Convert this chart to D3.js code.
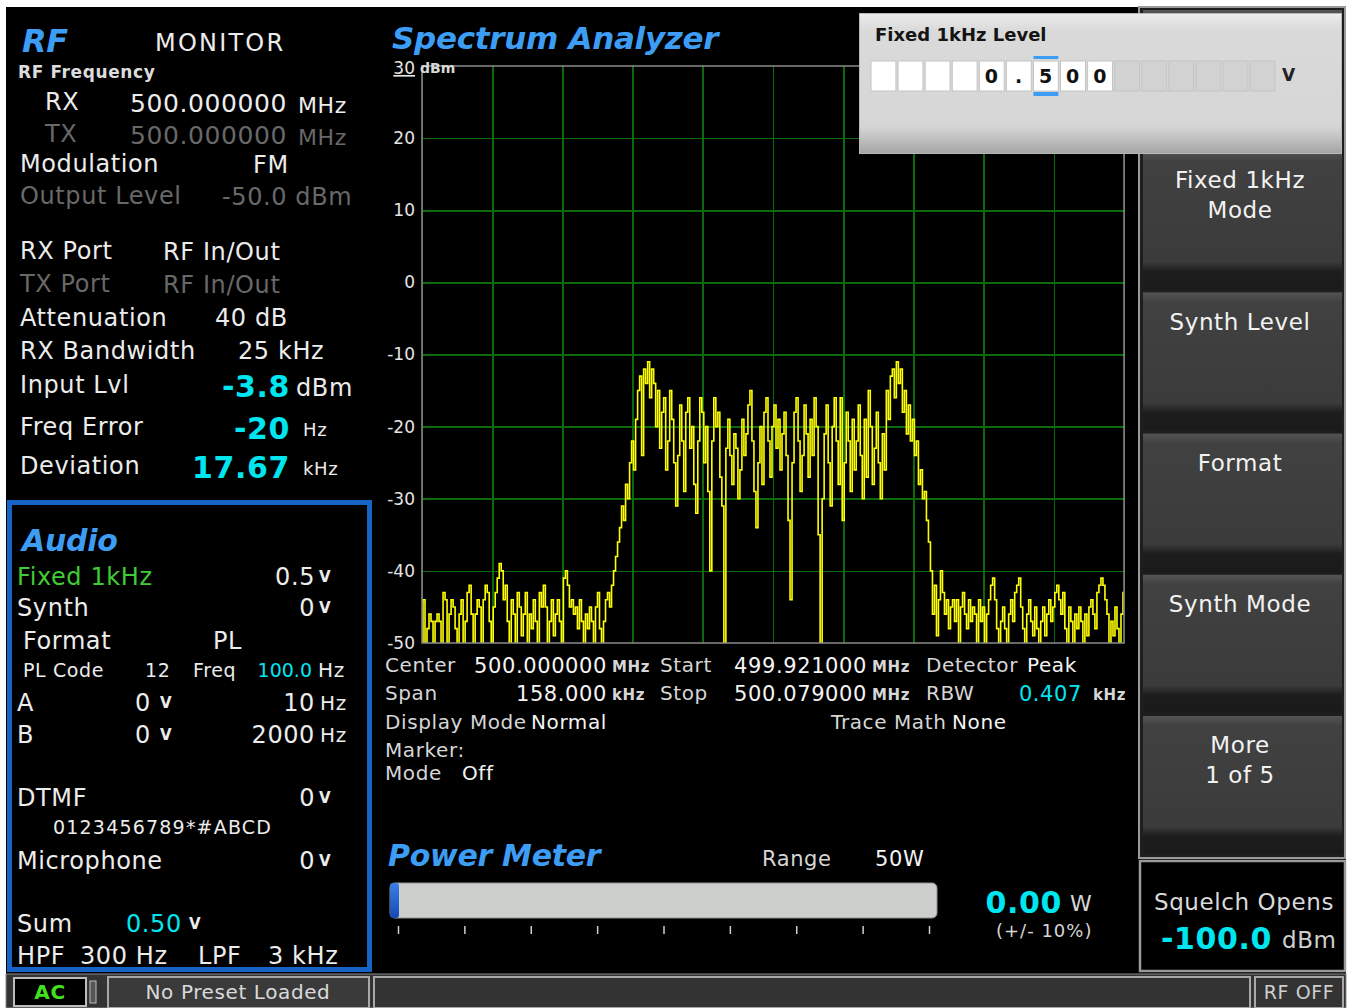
<!DOCTYPE html>
<meta charset="utf-8">
<style>
body { margin: 0; background: #fff; }
svg { display: block; }
text { font-family: 'DejaVu Sans', sans-serif; letter-spacing: 0.6px; }
.grid line { stroke: #0b6a0b; stroke-width: 1.6px; shape-rendering: crispEdges; }
.grid path { display: none; }
.yaxis path, .yaxis line { display: none; }
.yaxis text { fill: #e4e4e4; font-size: 17px; letter-spacing: 0; }
.pticks path { display: none; }
.pticks line { stroke: #cfcfcf; stroke-width: 1.5px; }
</style>
<svg width="1349" height="1008"></svg>
<script src="https://d3js.org/d3.v7.min.js"></script>
<script>
// spectrum trace, dBm, one value per bin from start to stop frequency
var traceFloorLeft = [
  -50,-44,-50,-48,-46,-47,-50,-47,-46,-47,
  -50,-43,-44,-50,-46,-44,-45,-48,-50,-46,
  -44,-50,-47,-43,-42,-46,-50,-46,-44,-45,
  -50,-44,-42,-43,-47,-50,-45,-43,-41,-39,
  -40,-44,-42,-47,-50,-44,-46,-50,-43,-45,
  -49,-46,-43,-50,-46,-48,-44,-47,-50,-43,
  -45,-42,-45,-50,-47,-44,-49,-46,-44,-47,
  -50,-41,-40,-42,-45,-44,-46,-45,-48,-44,
  -47,-50,-46,-48,-45,-47,-50,-45,-43,-48,
  -50,-47,-44,-43,-45,-42];
var traceRise = [-40,-38,-36,-34,-31,-33,-28,-30,-25,-22,-26,-19];
var tracePlateau = [
  -15,-13,-24,-12,-14,-11,-16,-12,-14,-20,
  -15,-23,-18,-16,-26,-22,-15,-19,-25,-31,
  -24,-17,-22,-29,-18,-16,-23,-20,-28,-32,
  -22,-16,-18,-25,-20,-29,-40,-22,-16,-20,
  -18,-27,-31,-50,-23,-19,-24,-28,-21,-23,
  -30,-26,-19,-24,-21,-17,-15,-22,-29,-34,
  -25,-20,-28,-18,-16,-22,-27,-20,-17,-23,
  -19,-26,-21,-18,-24,-33,-44,-25,-18,-16,
  -22,-29,-24,-17,-21,-27,-19,-24,-16,-20,
  -35,-50,-30,-21,-17,-25,-31,-20,-16,-22,
  -28,-16,-33,-25,-18,-22,-29,-19,-26,-22,
  -17,-24,-30,-19,-27,-15,-20,-28,-23,-18,
  -25,-30,-21,-26,-15,-19,-13,-12,-16,-11,
  -14,-12,-18,-15,-21,-17,-22];
var traceFall = [-19,-24,-22,-28,-26,-30,-29,-33,-36,-40,-46];
var traceFloorRight = [
  -42,-49,-44,-40,-43,-46,-44,-48,-45,-44,
  -47,-44,-50,-45,-43,-46,-48,-44,-47,-45,
  -46,-50,-44,-47,-45,-50,-46,-44,-42,-41,
  -44,-48,-50,-47,-45,-48,-50,-46,-44,-47,
  -43,-42,-41,-45,-48,-50,-46,-44,-47,-49,
  -45,-48,-50,-47,-45,-49,-46,-44,-47,-45,
  -43,-42,-44,-46,-43,-48,-50,-45,-47,-50,
  -46,-48,-45,-47,-50,-46,-49,-45,-44,-46,
  -48,-43,-42,-41,-42,-44,-46,-50,-47,-49,
  -45,-48,-50,-46,-43];

var freqStart = 499.921, freqStop = 500.079;   // MHz
var refLevel = 30, bottomLevel = -50;           // dBm
var yTicks = [30, 20, 10, 0, -10, -20, -30, -40, -50];
var powerRange = 50;                            // W
var powerTicks = [0, 6.25, 12.5, 18.75, 25, 31.25, 37.5, 43.75, 50];
var entryDigits = ["", "", "", "", "0", ".", "5", "0", "0", "", "", "", "", "", ""];
var softkeys = [[""], ["Fixed 1kHz", "Mode"], ["Synth Level"], ["Format"], ["Synth Mode"], ["More", "1 of 5"]];

var trace = traceFloorLeft.concat(traceRise, tracePlateau, traceFall, traceFloorRight);

var svg = d3.select("svg");
var defs = svg.append("defs");

function grad(id, stops) {
  var g = defs.append("linearGradient").attr("id", id)
      .attr("x1", 0).attr("y1", 0).attr("x2", 0).attr("y2", 1);
  stops.forEach(function(s) { g.append("stop").attr("offset", s[0]).attr("stop-color", s[1]); });
}
grad("btn", [[0, "#555"], [0.07, "#414141"], [0.8, "#3b3b3b"], [0.87, "#1d1d1d"], [1, "#1a1a1a"]]);
grad("pop", [[0, "#ececec"], [0.12, "#dadada"], [0.8, "#d6d6d6"], [0.88, "#c4c4c4"], [1, "#a4a4a4"]]);
grad("cap", [[0, "#3c7fe6"], [1, "#1449b4"]]);

function label(x, y, s, o) {
  o = o || {};
  return svg.append("text")
      .attr("x", x).attr("y", y).attr("dy", "0.36em")
      .attr("font-size", o.size || 24)
      .attr("fill", o.fill || "#ececec")
      .attr("font-weight", o.bold ? "bold" : null)
      .attr("font-style", o.italic ? "italic" : null)
      .attr("text-anchor", o.anchor || "start")
      .text(s);
}
var BLUE = "#3d9df5", DIM = "#686868", CYAN = "#00e6f0", GREEN = "#3fcc34";
function title(x, y, s, size) {
  return label(x, y, s, {size: size, fill: BLUE, bold: true, italic: true}).style("letter-spacing", "-0.3px");
}

// screen
svg.append("rect").attr("x", 6).attr("y", 7).attr("width", 1340).attr("height", 1001).attr("fill", "#000");

// ---- RF panel
title(22, 40, "RF", 32);
label(155, 42, "MONITOR", {size: 24}).style("letter-spacing", "2.2px");
label(18, 72, "RF Frequency", {size: 17, bold: true, fill: "#dcdcdc"});
label(45, 101, "RX", {size: 24});
label(130, 103, "500.000000", {size: 25});
label(298, 105, "MHz", {size: 22});
label(45, 133, "TX", {size: 24, fill: DIM});
label(130, 135, "500.000000", {size: 25, fill: DIM});
label(298, 137, "MHz", {size: 22, fill: DIM});
label(20, 163, "Modulation", {size: 24});
label(253, 164, "FM", {size: 24});
label(20, 195, "Output Level", {size: 24, fill: DIM});
label(222, 196, "-50.0 dBm", {size: 24, fill: DIM});
label(20, 250, "RX Port", {size: 24});
label(163, 251, "RF In/Out", {size: 24});
label(20, 283, "TX Port", {size: 24, fill: DIM});
label(163, 284, "RF In/Out", {size: 24, fill: DIM});
label(20, 317, "Attenuation", {size: 24});
label(215, 317, "40 dB", {size: 24});
label(20, 350, "RX Bandwidth", {size: 24});
label(238, 350, "25 kHz", {size: 24});
label(20, 384, "Input Lvl", {size: 24});
label(290, 386, "-3.8", {size: 30, bold: true, fill: CYAN, anchor: "end"});
label(296, 387, "dBm", {size: 24});
label(20, 426, "Freq Error", {size: 24});
label(290, 428, "-20", {size: 30, bold: true, fill: CYAN, anchor: "end"});
label(303, 430, "Hz", {size: 18});
label(20, 465, "Deviation", {size: 24});
label(290, 467, "17.67", {size: 30, bold: true, fill: CYAN, anchor: "end"});
label(303, 469, "kHz", {size: 18});

// ---- Audio panel
svg.append("rect").attr("x", 9.5).attr("y", 502.5).attr("width", 360).attr("height", 467)
    .attr("fill", "none").attr("stroke", "#1763c6").attr("stroke-width", 5);
title(22, 540, "Audio", 30);
function volt(x, y) { label(x, y + 1, "V", {size: 15, bold: true}); }
label(17, 576, "Fixed 1kHz", {size: 24, fill: GREEN});
label(315, 576, "0.5", {size: 24, anchor: "end"}); volt(319, 576);
label(17, 607, "Synth", {size: 24});
label(315, 607, "0", {size: 24, anchor: "end"}); volt(319, 607);
label(23, 640, "Format", {size: 24});
label(213, 640, "PL", {size: 24});
label(23, 670, "PL Code", {size: 19});
label(145, 670, "12", {size: 19});
label(193, 670, "Freq", {size: 19});
label(312, 670, "100.0", {size: 19, fill: CYAN, anchor: "end"}).style("letter-spacing", "0");
label(318, 670, "Hz", {size: 20});
label(17, 702, "A", {size: 24});
label(135, 702, "0", {size: 24}); volt(160, 702);
label(315, 702, "10", {size: 24, anchor: "end"});
label(320, 703, "Hz", {size: 20});
label(17, 734, "B", {size: 24});
label(135, 734, "0", {size: 24}); volt(160, 734);
label(315, 734, "2000", {size: 24, anchor: "end"});
label(320, 735, "Hz", {size: 20});
label(17, 797, "DTMF", {size: 24});
label(315, 797, "0", {size: 24, anchor: "end"}); volt(319, 797);
label(53, 827, "0123456789*#ABCD", {size: 19}).style("letter-spacing", "1.2px");
label(17, 860, "Microphone", {size: 24});
label(315, 860, "0", {size: 24, anchor: "end"}); volt(319, 860);
label(17, 923, "Sum", {size: 24});
label(126, 923, "0.50", {size: 24, fill: CYAN}); volt(189, 923);
label(17, 955, "HPF", {size: 24});
label(80, 955, "300 Hz", {size: 24});
label(198, 955, "LPF", {size: 24});
label(268, 955, "3 kHz", {size: 24});

// ---- Spectrum analyzer
title(392, 38, "Spectrum Analyzer", 31);
var plot = {left: 422, right: 1124, top: 66, bottom: 643};
var x = d3.scaleLinear().domain([freqStart, freqStop]).range([plot.left, plot.right]);
var y = d3.scaleLinear().domain([bottomLevel, refLevel]).range([plot.bottom, plot.top]);
var binWidth = (freqStop - freqStart) / (trace.length - 1);

svg.append("g").attr("class", "grid")
    .attr("transform", "translate(0," + plot.bottom + ")")
    .call(d3.axisBottom(x).tickValues(d3.range(11).map(function(k) { return freqStart + k * (freqStop - freqStart) / 10; }))
      .tickSize(-(plot.bottom - plot.top)).tickFormat(""));
svg.append("g").attr("class", "grid")
    .attr("transform", "translate(" + plot.left + ",0)")
    .call(d3.axisLeft(y).tickValues(yTicks.slice(1, -1)).tickSize(-(plot.right - plot.left)).tickFormat(""));

svg.append("clipPath").attr("id", "clip").append("rect")
    .attr("x", plot.left).attr("y", plot.top).attr("width", plot.right - plot.left).attr("height", plot.bottom - plot.top);
svg.append("path")
    .datum(trace)
    .attr("clip-path", "url(#clip)")
    .attr("fill", "none").attr("stroke", "#ffff00").attr("stroke-width", 1.6)
    .attr("d", d3.line()
      .x(function(d, i) { return x(freqStart + i * binWidth); })
      .y(function(d) { return y(d); })
      .curve(d3.curveStep));

svg.append("rect").attr("x", plot.left).attr("y", plot.top)
    .attr("width", plot.right - plot.left).attr("height", plot.bottom - plot.top)
    .attr("fill", "none").attr("stroke", "#8a8a8a").attr("stroke-width", 1.5);

var yAxis = svg.append("g").attr("class", "yaxis")
    .attr("transform", "translate(" + 415 + ",0)")
    .call(d3.axisLeft(y).tickValues(yTicks).tickSize(0).tickPadding(0)
      .tickFormat(function(d) { return String(d); }));
yAxis.selectAll(".tick").filter(function(d) { return d === refLevel; }).select("text")
    .attr("y", 2).style("text-decoration", "underline");
label(420, 68, "dBm", {size: 14, bold: true, fill: "#d8d8d8"}).style("letter-spacing", "0");

// settings under the plot
var L = "#d6d6d6", W = "#f4f4f4";
label(385, 665, "Center", {size: 20, fill: L});
label(607, 665, "500.000000", {size: 21, fill: W, anchor: "end"});
label(612, 667, "MHz", {size: 15, bold: true, fill: L});
label(660, 665, "Start", {size: 20, fill: L});
label(867, 665, "499.921000", {size: 21, fill: W, anchor: "end"});
label(872, 667, "MHz", {size: 15, bold: true, fill: L});
label(926, 665, "Detector", {size: 20, fill: L});
label(1027, 665, "Peak", {size: 20, fill: W});
label(385, 693, "Span", {size: 20, fill: L});
label(607, 693, "158.000", {size: 21, fill: W, anchor: "end"});
label(612, 695, "kHz", {size: 15, bold: true, fill: L});
label(660, 693, "Stop", {size: 20, fill: L});
label(867, 693, "500.079000", {size: 21, fill: W, anchor: "end"});
label(872, 695, "MHz", {size: 15, bold: true, fill: L});
label(926, 693, "RBW", {size: 20, fill: L});
label(1082, 693, "0.407", {size: 21, fill: CYAN, anchor: "end"});
label(1093, 695, "kHz", {size: 15, bold: true, fill: L});
label(385, 722, "Display Mode", {size: 20, fill: L});
label(531, 722, "Normal", {size: 20, fill: W});
label(831, 722, "Trace Math", {size: 20, fill: L});
label(952, 722, "None", {size: 20, fill: W});
label(385, 750, "Marker:", {size: 20, fill: L});
label(385, 773, "Mode", {size: 20, fill: L});
label(462, 773, "Off", {size: 20, fill: W});

// ---- Power meter
title(388, 855, "Power Meter", 30);
label(762, 858, "Range", {size: 21, fill: L});
label(875, 858, "50W", {size: 21, fill: W});
var p = d3.scaleLinear().domain([0, powerRange]).range([398, 929]);
svg.append("rect").attr("x", 390).attr("y", 883).attr("width", 547).attr("height", 35).attr("rx", 5)
    .attr("fill", "#cdcfcc").attr("stroke", "#8f918e");
svg.append("rect").attr("x", 390).attr("y", 883).attr("width", 9).attr("height", 35).attr("rx", 3)
    .attr("fill", "url(#cap)");
svg.append("g").attr("class", "pticks").attr("transform", "translate(0,926)")
    .call(d3.axisBottom(p).tickValues(powerTicks).tickSize(8).tickFormat(""));
label(1062, 902, "0.00", {size: 30, bold: true, fill: CYAN, anchor: "end"});
label(1070, 903, "W", {size: 22, fill: L});
label(996, 931, "(+/- 10%)", {size: 18, fill: L}).style("letter-spacing", "1px");

// ---- Softkeys
svg.append("rect").attr("x", 1139).attr("y", 7).attr("width", 206).attr("height", 851)
    .attr("fill", "#1e1e1e").attr("stroke", "#9a9a9a").attr("stroke-width", 2);
var keyH = 141.2;
softkeys.forEach(function(lines, k) {
  var top = 10 + k * keyH;
  svg.append("rect").attr("x", 1143).attr("y", top).attr("width", 199).attr("height", keyH - 3)
      .attr("fill", "url(#btn)");
  lines.forEach(function(s, j) { label(1240, top + 29 + j * 30, s, {size: 23, fill: "#f2f2f2", anchor: "middle"}); });
});
svg.append("rect").attr("x", 1140).attr("y", 861).attr("width", 205).attr("height", 110)
    .attr("fill", "#000").attr("stroke", "#9a9a9a").attr("stroke-width", 2.5);
label(1244, 902, "Squelch Opens", {size: 23, fill: "#dadada", anchor: "middle"});
label(1272, 938, "-100.0", {size: 30, bold: true, fill: CYAN, anchor: "end"});
label(1282, 940, "dBm", {size: 23, fill: "#cfcfcf"});

// ---- Entry popup
svg.append("rect").attr("x", 859.5).attr("y", 13.5).attr("width", 482).attr("height", 140)
    .attr("fill", "url(#pop)").attr("stroke", "#b8b8b8");
label(875, 35, "Fixed 1kHz Level", {size: 18, bold: true, fill: "#141414"}).style("letter-spacing", "0");
var cell = d3.scaleBand().domain(d3.range(entryDigits.length)).range([871, 1275]).paddingInner(0.08);
var cells = svg.append("g").selectAll("g").data(entryDigits).join("g")
    .attr("transform", function(d, i) { return "translate(" + cell(i) + ",61)"; });
cells.append("rect").attr("width", cell.bandwidth()).attr("height", 30)
    .attr("fill", function(d, i) { return i < 9 ? "#fff" : "#d2d2d2"; })
    .attr("stroke", "#c4c4c4");
cells.append("text").attr("x", cell.bandwidth() / 2).attr("y", 15).attr("dy", "0.36em")
    .attr("text-anchor", "middle").attr("font-size", 19).attr("font-weight", "bold").attr("fill", "#111")
    .text(function(d) { return d; });
cells.filter(function(d, i) { return i === 6; }).each(function() {
  var g = d3.select(this);
  g.append("rect").attr("y", -5).attr("width", cell.bandwidth()).attr("height", 3).attr("fill", "#3d9df5");
  g.append("rect").attr("y", 31).attr("width", cell.bandwidth()).attr("height", 4).attr("fill", "#3d9df5");
});
label(1282, 75, "V", {size: 17, bold: true, fill: "#222"});

// ---- Status bar
svg.append("rect").attr("x", 6).attr("y", 974).attr("width", 1340).attr("height", 34)
    .attr("fill", "#333").attr("stroke", "#8a8a8a");
svg.append("rect").attr("x", 14).attr("y", 978).attr("width", 72).attr("height", 28)
    .attr("fill", "#000").attr("stroke", "#bdbdbd").attr("stroke-width", 2);
label(50, 992, "AC", {size: 20, bold: true, fill: "#44e020", anchor: "middle"});
svg.append("rect").attr("x", 90).attr("y", 981).attr("width", 6).attr("height", 22)
    .attr("fill", "#555").attr("stroke", "#bbb");
svg.append("rect").attr("x", 108).attr("y", 977).attr("width", 261).attr("height", 31)
    .attr("fill", "#3a3a3a").attr("stroke", "#a8a8a8").attr("stroke-width", 2);
label(238, 992, "No Preset Loaded", {size: 20, fill: "#dadada", anchor: "middle"});
svg.append("rect").attr("x", 374).attr("y", 977).attr("width", 876).attr("height", 31)
    .attr("fill", "#333").attr("stroke", "#a8a8a8").attr("stroke-width", 2);
svg.append("rect").attr("x", 1255).attr("y", 977).attr("width", 88).attr("height", 31)
    .attr("fill", "#333").attr("stroke", "#a8a8a8").attr("stroke-width", 2);
label(1299, 992, "RF OFF", {size: 19, fill: "#cfcfcf", anchor: "middle"});
</script>
